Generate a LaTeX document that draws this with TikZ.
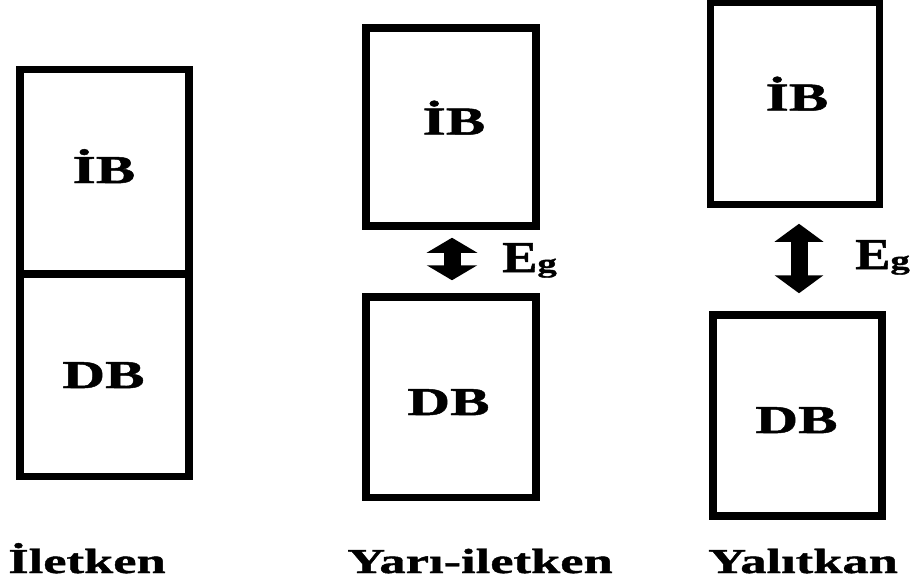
\documentclass[tikz,border=0pt]{standalone}
\usepackage{fontspec}
\setmainfont{Liberation Serif}
\newfontfamily\wideA{Liberation Serif}[FakeStretch=1.5,FakeBold=1.2]
\newfontfamily\wideE{Liberation Serif}[FakeStretch=1.2,FakeBold=1.2]
\usetikzlibrary{arrows.meta,calc}
\tikzset{
  band/.style={draw=black, line width=7.5pt, rectangle, inner sep=0pt},
  boxtxt/.style={font=\wideA\bfseries\fontsize{39.5}{40}\selectfont, text height=26pt, text depth=0pt, inner sep=0pt},
  captxt/.style={font=\wideA\bfseries\fontsize{35}{36}\selectfont, inner sep=0pt, anchor=base},
  egtxt/.style={inner sep=0pt, anchor=base west},
  gaparrow/.style={line width=17pt, {Triangle[width=50pt,length=15pt]}-{Triangle[width=50pt,length=15pt]}},
  gaparrowB/.style={line width=17pt, {Triangle[width=48pt,length=18pt]}-{Triangle[width=48pt,length=18pt]}}
}
\newcommand{\EgText}{{\wideE\bfseries\fontsize{44}{44}\selectfont E}{\wideA\bfseries\fontsize{26}{26}\selectfont g}}
\begin{document}
\begin{tikzpicture}[x=1pt,y=-1pt]
\useasboundingbox[fill=white] (0,0) rectangle (917,584);
% Iletken
\node[band, minimum width=169pt, minimum height=204.5pt] (lIB) at (104.5,171.75) {};
\node[band, minimum width=169pt, minimum height=202.5pt] (lDB) at (104.5,375.25) {};
\node[boxtxt] (lIBt) at (104,170) {İB};
\node[boxtxt] (lDBt) at (103.5,375) {DB};
% Yari-iletken
\node[band, minimum width=170pt, minimum height=198pt] (mIB) at (451,127) {};
\node[band, minimum width=170pt, minimum height=200.5pt] (mDB) at (451,397.25) {};
\node[boxtxt] (mIBt) at (454,121.5) {İB};
\node[boxtxt] (mDBt) at (448.5,402) {DB};
\draw[gaparrow] ($(mIB.south)+(1,8)$) -- ($(mDB.north)+(1,-13)$);
\node[egtxt] (mEg) at (502,272) {\EgText};
% Yalitkan
\node[band, minimum width=169pt, minimum height=202.5pt] (rIB) at (795,103.25) {};
\node[band, minimum width=169pt, minimum height=201pt] (rDB) at (797.5,415.5) {};
\node[boxtxt] (rIBt) at (797,97.5) {İB};
\node[boxtxt] (rDBt) at (796.5,420) {DB};
\draw[gaparrowB] ($(rIB.south)+(4,15.5)$) -- ($(rDB.north)+(1.5,-18)$);
\node[egtxt] (rEg) at (855,269) {\EgText};
% captions
\node[captxt] (c1) at (87,573) {İletken};
\node[captxt] (c2) at (480,573) {Yarı-iletken};
\node[captxt] (c3) at (803,573) {Yalıtkan};
\end{tikzpicture}
\end{document}
